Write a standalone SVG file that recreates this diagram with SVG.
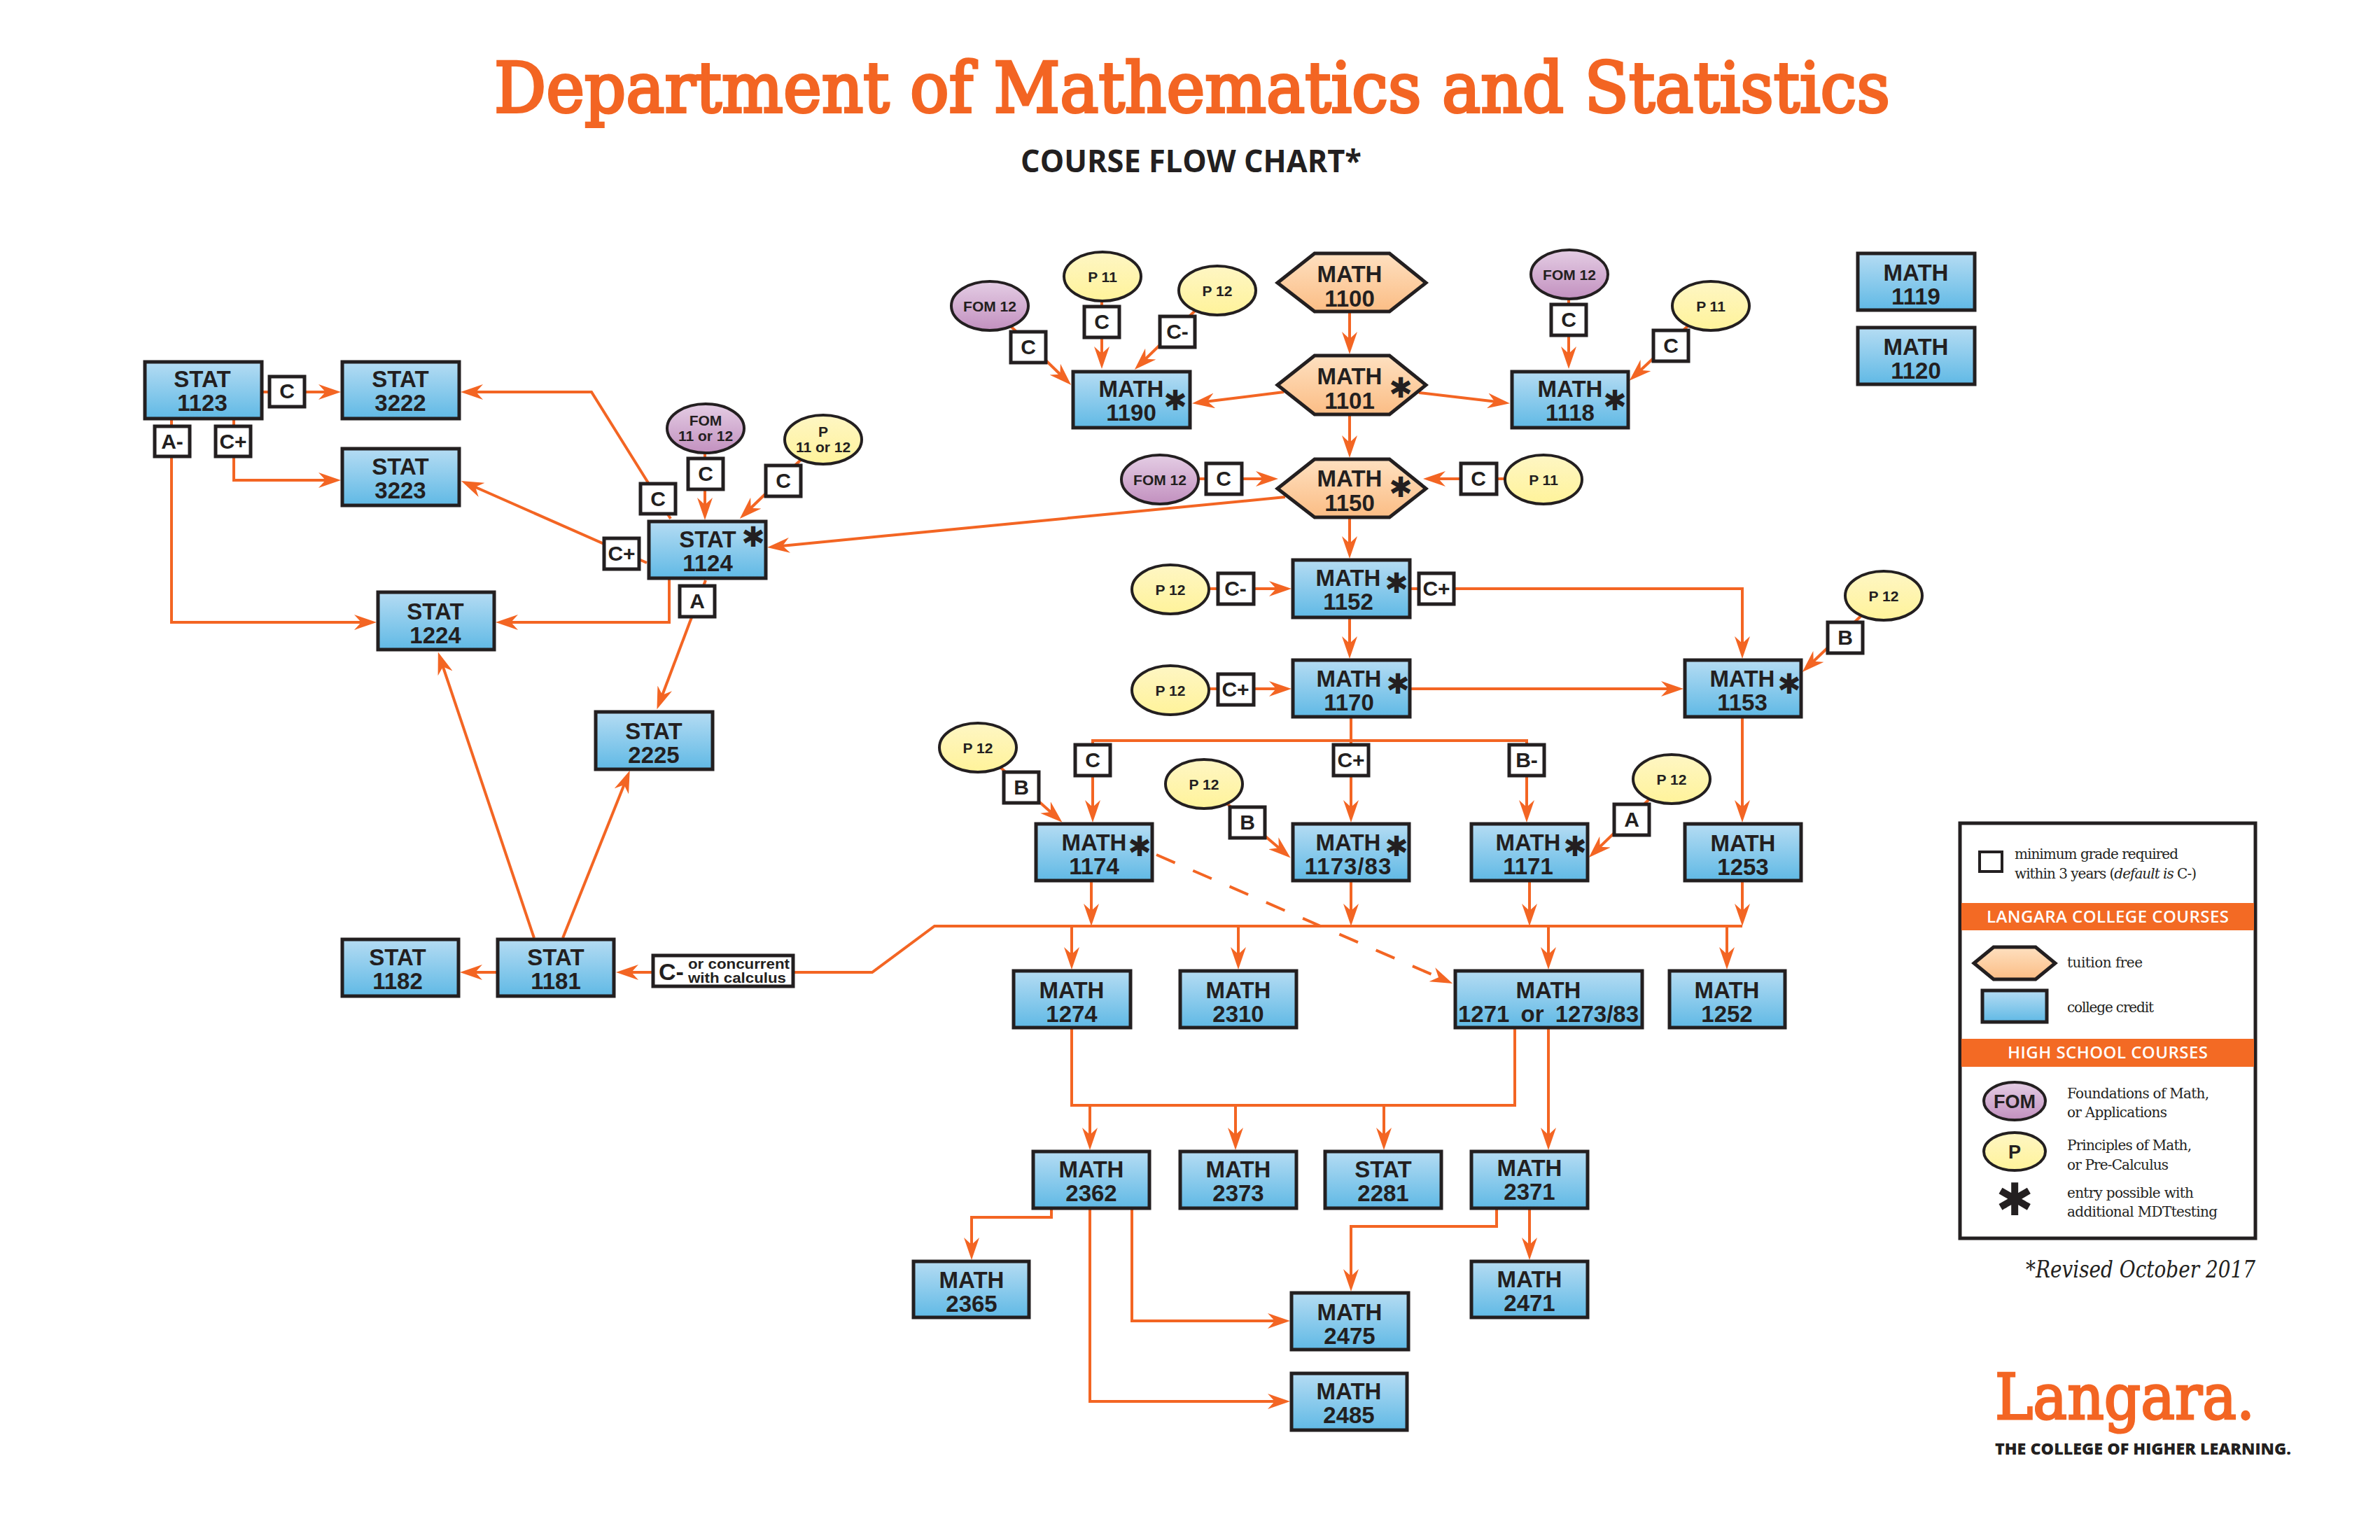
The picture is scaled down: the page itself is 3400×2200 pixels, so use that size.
<svg xmlns="http://www.w3.org/2000/svg" width="3400" height="2200" viewBox="0 0 3400 2200">
<style>
.n{font:bold 33px "Liberation Sans",Arial,sans-serif;fill:#231f20;text-anchor:middle}
.g{font:bold 30px "Liberation Sans",Arial,sans-serif;fill:#231f20;text-anchor:middle}
.o{font:bold 21px "Liberation Sans",Arial,sans-serif;fill:#231f20;text-anchor:middle}
.s{font:40px "DejaVu Sans",sans-serif;fill:#231f20;text-anchor:middle}
.box{fill:url(#blue);stroke:#231f20;stroke-width:5}
.hex{fill:url(#peach);stroke:#231f20;stroke-width:5;stroke-linejoin:miter}
.gr{fill:#fff;stroke:#231f20;stroke-width:5}
.fom{fill:url(#purple);stroke:#231f20;stroke-width:4}
.p{fill:url(#yellow);stroke:#231f20;stroke-width:4}
.c path{fill:none;stroke:#f36523;stroke-width:4;marker-end:url(#ah)}
.c path.nm{marker-end:none}
.l{font:20px "DejaVu Serif",serif;fill:#231f20}
.b{font:600 24px "Open Sans",sans-serif;fill:#fff}
</style>
<defs>
<linearGradient id="blue" x1="0" y1="0" x2="0" y2="1"><stop offset="0" stop-color="#b5dcf3"/><stop offset="1" stop-color="#60b9e5"/></linearGradient>
<linearGradient id="peach" x1="0" y1="0" x2="0" y2="1"><stop offset="0" stop-color="#fee0c0"/><stop offset="1" stop-color="#fbbd85"/></linearGradient>
<linearGradient id="purple" x1="0" y1="0" x2="0" y2="1"><stop offset="0" stop-color="#e4cde4"/><stop offset="1" stop-color="#c290bf"/></linearGradient>
<linearGradient id="yellow" x1="0" y1="0" x2="0" y2="1"><stop offset="0" stop-color="#fef6c4"/><stop offset="1" stop-color="#fff39a"/></linearGradient>
<marker id="ah" markerUnits="userSpaceOnUse" markerWidth="32" markerHeight="22" viewBox="0 0 32 22" refX="22" refY="11" orient="auto"><path d="M32,11 L0,0 L10,11 L0,22 Z" fill="#f36523"/></marker>
</defs>
<rect width="3400" height="2200" fill="#fff"/>
<text id="title" x="706" y="160" textLength="1994" lengthAdjust="spacingAndGlyphs" stroke="#f36523" stroke-width="4" style="font:100px 'DejaVu Serif',serif;fill:#f36523">Department of Mathematics and Statistics</text>
<text id="subtitle" x="1458" y="246" textLength="487" lengthAdjust="spacingAndGlyphs" style="font:700 44px 'Open Sans',sans-serif;fill:#231f20">COURSE FLOW CHART*</text>

<g id="connectors" class="c">
<path d="M1928,446V496"/><path d="M1928,594V644"/><path d="M1928,741V788"/><path d="M1928,884V931"/>
<path d="M1834,560L1713,575"/><path d="M2027,561L2147,575"/>
<path d="M1413,436L1523,543"/><path d="M1574,394V517"/><path d="M1738,414L1628,521"/>
<path d="M2241,391V517"/><path d="M2443,436L2335,537"/>
<path d="M1656,684H1816"/><path d="M2204,684H2043"/>
<path d="M1836,710L1106,781"/>
<path d="M1671,841H1835"/><path d="M2015,841H2489V931"/><path d="M2015,984H2395"/><path d="M1671,984H1835"/>
<path d="M2690,850L2582,953"/>
<path class="nm" d="M1930,1026V1058"/><path d="M1930,1058H1561V1165"/><path d="M1930,1058H2181V1165"/><path d="M1930,1058V1165"/>
<path d="M1396,1067L1510,1168"/><path d="M1719,1119L1836,1219"/><path d="M2387,1112L2277,1218"/>
<path d="M1559,1260V1313"/><path d="M1930,1260V1313"/><path d="M2185,1260V1313"/><path d="M2489,1026V1165"/><path d="M2489,1260V1313"/>
<path d="M2489,1323H1335L1246,1389H890"/>
<path d="M1531,1323V1375"/><path d="M1769,1323V1375"/><path d="M2212,1323V1375"/><path d="M2467,1323V1375"/>
<path d="M1652,1221L2066,1401" stroke-dasharray="29 28"/>
<path d="M709,1389H667"/><path d="M763,1340L629,941"/><path d="M804,1340L896,1110"/>
<path d="M1008,829L942,1004"/><path d="M956,828V889H718"/><path d="M924,804L668,691"/><path d="M958,741L845,560H668"/>
<path d="M1007,611V733"/><path d="M1175,627L1064,734"/>
<path d="M376,560H477"/><path d="M334,600V686H477"/><path d="M245,600V889H528"/>
<path class="nm" d="M1531,1470V1579H2164V1470"/>
<path d="M1557,1579V1633"/><path d="M1765,1579V1633"/><path d="M1977,1579V1633"/><path d="M2212,1470V1633"/>
<path d="M1502,1728V1739H1388V1790"/><path d="M1557,1728V2002H1833"/><path d="M1617,1728V1887H1833"/><path d="M2185,1728V1790"/><path d="M2138,1728V1752H1930V1835"/>
</g>

<g id="n-math1100"><polygon class="hex" points="1825,404 1878,362 1985,362 2037,404 1985,445 1878,445"/><text class="n" x="1928" y="403">MATH<tspan x="1928" dy="35">1100</tspan></text></g>
<g id="n-math1101"><polygon class="hex" points="1825,550 1878,508 1985,508 2037,550 1985,592 1878,592"/><text class="n" x="1928" y="549">MATH<tspan x="1928" dy="35">1101</tspan></text><text class="s" x="2001" y="568">✱</text></g>
<g id="n-math1150"><polygon class="hex" points="1825,698 1878,656 1985,656 2037,698 1985,739 1878,739"/><text class="n" x="1928" y="695">MATH<tspan x="1928" dy="35">1150</tspan></text><text class="s" x="2001" y="710">✱</text></g>

<g id="n-math1190"><rect class="box" x="1533" y="531" width="167" height="80"/><text class="n" x="1616" y="567">MATH<tspan x="1616" dy="34">1190</tspan></text><text class="s" x="1679" y="586">✱</text></g>
<g id="n-math1118"><rect class="box" x="2160" y="531" width="166" height="80"/><text class="n" x="2243" y="567">MATH<tspan x="2243" dy="34">1118</tspan></text><text class="s" x="2307" y="586">✱</text></g>
<g id="n-math1119"><rect class="box" x="2654" y="362" width="167" height="81"/><text class="n" x="2737" y="401">MATH<tspan x="2737" dy="34">1119</tspan></text></g>
<g id="n-math1120"><rect class="box" x="2654" y="468" width="167" height="81"/><text class="n" x="2737" y="507">MATH<tspan x="2737" dy="34">1120</tspan></text></g>
<g id="n-math1152"><rect class="box" x="1847" y="800" width="167" height="82"/><text class="n" x="1926" y="837">MATH<tspan x="1926" dy="34">1152</tspan></text><text class="s" x="1995" y="847">✱</text></g>
<g id="n-math1170"><rect class="box" x="1847" y="943" width="167" height="81"/><text class="n" x="1927" y="981">MATH<tspan x="1927" dy="34">1170</tspan></text><text class="s" x="1997" y="991">✱</text></g>
<g id="n-math1153"><rect class="box" x="2407" y="943" width="166" height="81"/><text class="n" x="2489" y="981">MATH<tspan x="2489" dy="34">1153</tspan></text><text class="s" x="2556" y="991">✱</text></g>
<g id="n-math1174"><rect class="box" x="1480" y="1177" width="166" height="81"/><text class="n" x="1563" y="1215">MATH<tspan x="1563" dy="34">1174</tspan></text><text class="s" x="1628" y="1223">✱</text></g>
<g id="n-math1173"><rect class="box" x="1847" y="1177" width="166" height="81"/><text class="n" x="1926" y="1215">MATH<tspan x="1926" dy="34" letter-spacing="1">1173/83</tspan></text><text class="s" x="1995" y="1223">✱</text></g>
<g id="n-math1171"><rect class="box" x="2102" y="1177" width="166" height="81"/><text class="n" x="2183" y="1215">MATH<tspan x="2183" dy="34">1171</tspan></text><text class="s" x="2250" y="1223">✱</text></g>
<g id="n-math1253"><rect class="box" x="2407" y="1177" width="166" height="81"/><text class="n" x="2490" y="1216">MATH<tspan x="2490" dy="34">1253</tspan></text></g>
<g id="n-math1274"><rect class="box" x="1448" y="1387" width="167" height="81"/><text class="n" x="1531" y="1426">MATH<tspan x="1531" dy="34">1274</tspan></text></g>
<g id="n-math2310"><rect class="box" x="1686" y="1387" width="166" height="81"/><text class="n" x="1769" y="1426">MATH<tspan x="1769" dy="34">2310</tspan></text></g>
<g id="n-math1271"><rect class="box" x="2079" y="1387" width="267" height="81"/><text class="n" x="2212" y="1426" word-spacing="7">MATH<tspan x="2212" dy="34">1271 or 1273/83</tspan></text></g>
<g id="n-math1252"><rect class="box" x="2385" y="1387" width="165" height="81"/><text class="n" x="2467" y="1426">MATH<tspan x="2467" dy="34">1252</tspan></text></g>
<g id="n-math2362"><rect class="box" x="1476" y="1645" width="166" height="81"/><text class="n" x="1559" y="1682">MATH<tspan x="1559" dy="34">2362</tspan></text></g>
<g id="n-math2373"><rect class="box" x="1686" y="1645" width="166" height="81"/><text class="n" x="1769" y="1682">MATH<tspan x="1769" dy="34">2373</tspan></text></g>
<g id="n-stat2281"><rect class="box" x="1893" y="1645" width="166" height="81"/><text class="n" x="1976" y="1682">STAT<tspan x="1976" dy="34">2281</tspan></text></g>
<g id="n-math2371"><rect class="box" x="2102" y="1645" width="166" height="81"/><text class="n" x="2185" y="1680">MATH<tspan x="2185" dy="34">2371</tspan></text></g>
<g id="n-math2365"><rect class="box" x="1305" y="1802" width="165" height="80"/><text class="n" x="1388" y="1840">MATH<tspan x="1388" dy="34">2365</tspan></text></g>
<g id="n-math2471"><rect class="box" x="2102" y="1802" width="166" height="80"/><text class="n" x="2185" y="1839">MATH<tspan x="2185" dy="34">2471</tspan></text></g>
<g id="n-math2475"><rect class="box" x="1845" y="1847" width="167" height="81"/><text class="n" x="1928" y="1886">MATH<tspan x="1928" dy="34">2475</tspan></text></g>
<g id="n-math2485"><rect class="box" x="1845" y="1962" width="165" height="81"/><text class="n" x="1927" y="1999">MATH<tspan x="1927" dy="34">2485</tspan></text></g>

<g id="n-stat1123"><rect class="box" x="207" y="517" width="167" height="81"/><text class="n" x="289" y="553">STAT<tspan x="289" dy="34">1123</tspan></text></g>
<g id="n-stat3222"><rect class="box" x="489" y="517" width="167" height="81"/><text class="n" x="572" y="553">STAT<tspan x="572" dy="34">3222</tspan></text></g>
<g id="n-stat3223"><rect class="box" x="489" y="641" width="167" height="81"/><text class="n" x="572" y="678">STAT<tspan x="572" dy="34">3223</tspan></text></g>
<g id="n-stat1224"><rect class="box" x="540" y="846" width="166" height="82"/><text class="n" x="622" y="885">STAT<tspan x="622" dy="34">1224</tspan></text></g>
<g id="n-stat1124"><rect class="box" x="927" y="745" width="167" height="81"/><text class="n" x="1011" y="782">STAT<tspan x="1011" dy="34">1124</tspan></text><text class="s" x="1076" y="781">✱</text></g>
<g id="n-stat2225"><rect class="box" x="851" y="1017" width="167" height="82"/><text class="n" x="934" y="1056">STAT<tspan x="934" dy="34">2225</tspan></text></g>
<g id="n-stat1181"><rect class="box" x="711" y="1342" width="166" height="81"/><text class="n" x="794" y="1379">STAT<tspan x="794" dy="34">1181</tspan></text></g>
<g id="n-stat1182"><rect class="box" x="489" y="1342" width="166" height="81"/><text class="n" x="568" y="1379">STAT<tspan x="568" dy="34">1182</tspan></text></g>

<g id="high-school-ovals" transform="translate(1,1)">
<g id="hs-fom-a"><ellipse class="fom" cx="1413" cy="436" rx="55" ry="35"/><text class="o" x="1413" y="444">FOM 12</text></g>
<g id="hs-p11-a"><ellipse class="p" cx="1574" cy="394" rx="55" ry="35"/><text class="o" x="1574" y="402">P 11</text></g>
<g id="hs-p12-a"><ellipse class="p" cx="1738" cy="414" rx="55" ry="35"/><text class="o" x="1738" y="422">P 12</text></g>
<g id="hs-fom-b"><ellipse class="fom" cx="2241" cy="391" rx="55" ry="35"/><text class="o" x="2241" y="399">FOM 12</text></g>
<g id="hs-p11-b"><ellipse class="p" cx="2443" cy="436" rx="55" ry="35"/><text class="o" x="2443" y="444">P 11</text></g>
<g id="hs-fom-c"><ellipse class="fom" cx="1656" cy="684" rx="55" ry="35"/><text class="o" x="1656" y="692">FOM 12</text></g>
<g id="hs-p11-c"><ellipse class="p" cx="2204" cy="684" rx="55" ry="35"/><text class="o" x="2204" y="692">P 11</text></g>
<g id="hs-p12-d"><ellipse class="p" cx="1671" cy="841" rx="55" ry="35"/><text class="o" x="1671" y="849">P 12</text></g>
<g id="hs-p12-e"><ellipse class="p" cx="1671" cy="985" rx="55" ry="35"/><text class="o" x="1671" y="993">P 12</text></g>
<g id="hs-p12-f"><ellipse class="p" cx="2690" cy="850" rx="55" ry="35"/><text class="o" x="2690" y="858">P 12</text></g>
<g id="hs-p12-g"><ellipse class="p" cx="1396" cy="1067" rx="55" ry="35"/><text class="o" x="1396" y="1075">P 12</text></g>
<g id="hs-p12-h"><ellipse class="p" cx="1719" cy="1119" rx="55" ry="35"/><text class="o" x="1719" y="1127">P 12</text></g>
<g id="hs-p12-i"><ellipse class="p" cx="2387" cy="1112" rx="55" ry="35"/><text class="o" x="2387" y="1120">P 12</text></g>
<g id="hs-fom-j"><ellipse class="fom" cx="1007" cy="611" rx="55" ry="35"/><text class="o" x="1007" y="607">FOM<tspan x="1007" dy="22">11 or 12</tspan></text></g>
<g id="hs-p-k"><ellipse class="p" cx="1175" cy="627" rx="55" ry="35"/><text class="o" x="1175" y="623">P<tspan x="1175" dy="22">11 or 12</tspan></text></g>
</g>

<g id="gr1"><rect class="gr" x="1444" y="474" width="50" height="44"/><text class="g" x="1469" y="506">C</text></g>
<g id="gr2"><rect class="gr" x="1549" y="438" width="50" height="44"/><text class="g" x="1574" y="470">C</text></g>
<g id="gr3"><rect class="gr" x="1657" y="452" width="50" height="44"/><text class="g" x="1682" y="484">C-</text></g>
<g id="gr4"><rect class="gr" x="2216" y="435" width="50" height="44"/><text class="g" x="2241" y="467">C</text></g>
<g id="gr5"><rect class="gr" x="2362" y="472" width="50" height="44"/><text class="g" x="2387" y="504">C</text></g>
<g id="gr6"><rect class="gr" x="1723" y="662" width="51" height="44"/><text class="g" x="1748" y="694">C</text></g>
<g id="gr7"><rect class="gr" x="2087" y="662" width="51" height="44"/><text class="g" x="2112" y="694">C</text></g>
<g id="gr8"><rect class="gr" x="1740" y="819" width="51" height="44"/><text class="g" x="1765" y="851">C-</text></g>
<g id="gr9"><rect class="gr" x="2027" y="819" width="50" height="44"/><text class="g" x="2052" y="851">C+</text></g>
<g id="gr10"><rect class="gr" x="1740" y="963" width="51" height="44"/><text class="g" x="1765" y="995">C+</text></g>
<g id="gr11"><rect class="gr" x="2611" y="889" width="50" height="44"/><text class="g" x="2636" y="921">B</text></g>
<g id="gr12"><rect class="gr" x="1536" y="1064" width="50" height="44"/><text class="g" x="1561" y="1096">C</text></g>
<g id="gr13"><rect class="gr" x="1905" y="1064" width="50" height="44"/><text class="g" x="1930" y="1096">C+</text></g>
<g id="gr14"><rect class="gr" x="2156" y="1064" width="50" height="44"/><text class="g" x="2181" y="1096">B-</text></g>
<g id="gr15"><rect class="gr" x="1434" y="1103" width="50" height="44"/><text class="g" x="1459" y="1135">B</text></g>
<g id="gr16"><rect class="gr" x="1757" y="1153" width="50" height="44"/><text class="g" x="1782" y="1185">B</text></g>
<g id="gr17"><rect class="gr" x="2306" y="1149" width="50" height="44"/><text class="g" x="2331" y="1181">A</text></g>
<g id="gr18"><rect class="gr" x="385" y="538" width="50" height="43"/><text class="g" x="410" y="569">C</text></g>
<g id="gr19"><rect class="gr" x="221" y="609" width="50" height="43"/><text class="g" x="246" y="641">A-</text></g>
<g id="gr20"><rect class="gr" x="308" y="609" width="50" height="43"/><text class="g" x="333" y="641">C+</text></g>
<g id="gr21"><rect class="gr" x="915" y="691" width="50" height="43"/><text class="g" x="940" y="723">C</text></g>
<g id="gr22"><rect class="gr" x="983" y="655" width="50" height="44"/><text class="g" x="1008" y="687">C</text></g>
<g id="gr23"><rect class="gr" x="1094" y="665" width="50" height="44"/><text class="g" x="1119" y="697">C</text></g>
<g id="gr24"><rect class="gr" x="863" y="769" width="50" height="44"/><text class="g" x="888" y="801">C+</text></g>
<g id="gr25"><rect class="gr" x="971" y="837" width="50" height="44"/><text class="g" x="996" y="869">A</text></g>
<g id="gr26"><rect class="gr" x="933" y="1365" width="200" height="44"/><text class="g" x="959" y="1400" style="font-size:34px">C-</text><text x="983" y="1384" textLength="145" lengthAdjust="spacingAndGlyphs" style="font:bold 21px 'Liberation Sans',sans-serif;fill:#231f20">or concurrent</text><text x="983" y="1404" textLength="140" lengthAdjust="spacingAndGlyphs" style="font:bold 21px 'Liberation Sans',sans-serif;fill:#231f20">with calculus</text></g>

<g id="legend">
<rect x="2800" y="1176" width="422" height="593" fill="#fff" stroke="#231f20" stroke-width="5"/>
<g transform="translate(0,2)">
<rect x="2828" y="1215" width="32" height="28" fill="#fff" stroke="#231f20" stroke-width="4"/>
<text class="l" x="2878" y="1225" textLength="234">minimum grade required</text>
<text class="l" x="2878" y="1253" textLength="260">within 3 years (<tspan font-style="italic">default is</tspan> C-)</text>
<rect x="2802" y="1288" width="418" height="39" fill="#f36a24"/>
<text class="b" x="2838" y="1316" textLength="346">LANGARA COLLEGE COURSES</text>
<polygon class="hex" points="2820,1374 2848,1351 2908,1351 2936,1374 2908,1397 2848,1397"/>
<text class="l" x="2953" y="1380" textLength="108">tuition free</text>
<rect class="box" x="2832" y="1413" width="92" height="45"/>
<text class="l" x="2953" y="1444" textLength="124">college credit</text>
<rect x="2802" y="1482" width="418" height="40" fill="#f36a24"/>
<text class="b" x="2868" y="1510" textLength="286">HIGH SCHOOL COURSES</text>
<ellipse class="fom" cx="2878" cy="1571" rx="44" ry="27"/>
<text class="n" x="2878" y="1581" style="font-size:27px">FOM</text>
<text class="l" x="2953" y="1567" textLength="203">Foundations of Math,</text>
<text class="l" x="2953" y="1594" textLength="143">or Applications</text>
<ellipse class="p" cx="2878" cy="1643" rx="44" ry="27"/>
<text class="n" x="2878" y="1653" style="font-size:27px">P</text>
<text class="l" x="2953" y="1641" textLength="178">Principles of Math,</text>
<text class="l" x="2953" y="1669" textLength="145">or Pre-Calculus</text>
<text class="s" x="2878" y="1734" style="font-size:64px">✱</text>
<text class="l" x="2953" y="1709" textLength="181">entry possible with</text>
<text class="l" x="2953" y="1736" textLength="215">additional MDTtesting</text>
</g>
</g>
<text id="revised" x="2894" y="1825" textLength="328" lengthAdjust="spacingAndGlyphs" style="font:italic 34px 'DejaVu Serif',serif;fill:#231f20">*Revised October 2017</text>
<g id="logo">
<text x="2850" y="2027" textLength="371" lengthAdjust="spacingAndGlyphs" stroke="#f36523" stroke-width="3" style="font:90px 'DejaVu Serif',serif;fill:#f36523">Langara.</text>
<text x="2850" y="2078" textLength="423" lengthAdjust="spacingAndGlyphs" style="font:800 23px 'Open Sans',sans-serif;fill:#231f20">THE COLLEGE OF HIGHER LEARNING.</text>
</g>
</svg>
